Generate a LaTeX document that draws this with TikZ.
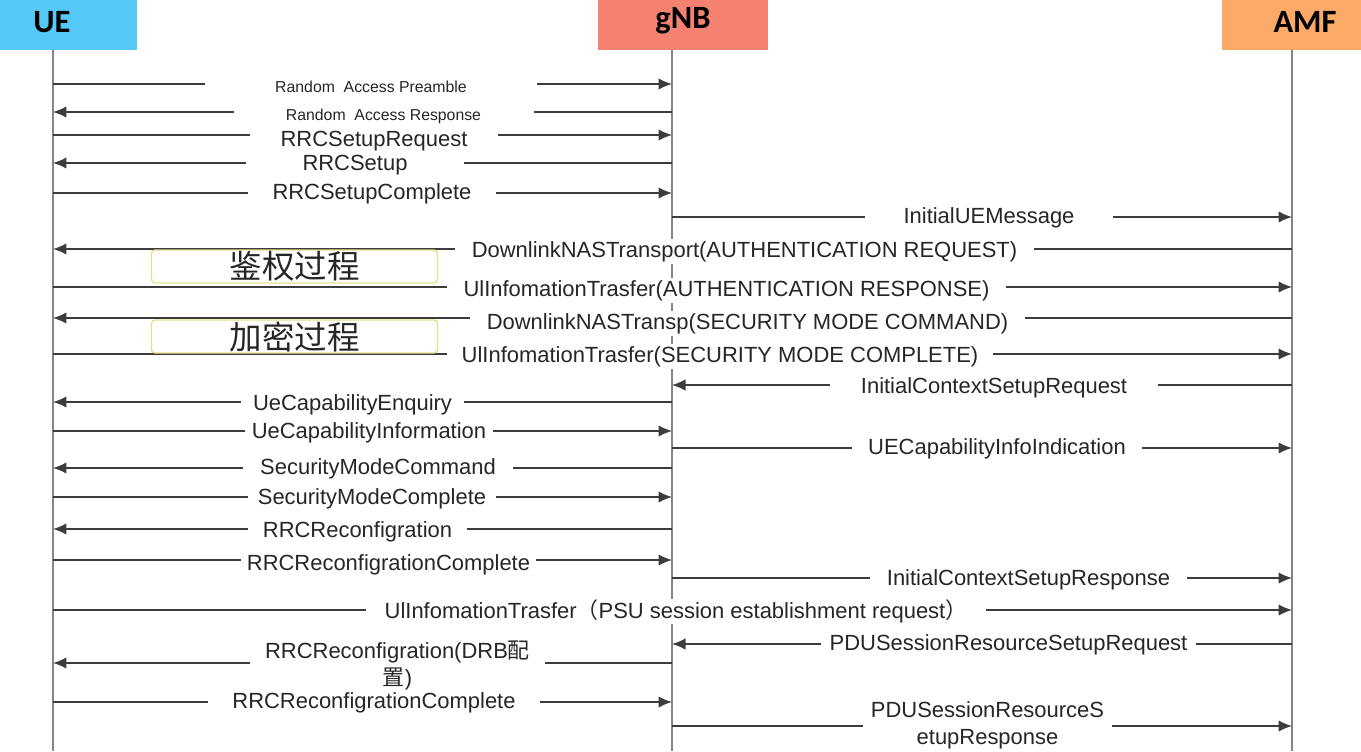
\documentclass[tikz,border=0pt]{standalone}
\usepackage{fontspec}
\setmainfont{Liberation Sans}
\newfontfamily\cjk{Noto Sans CJK SC}
\newfontfamily\headfont{Carlito}
\usepackage{tikz}
\usetikzlibrary{arrows.meta, positioning}
\definecolor{ueblue}{HTML}{56C8F5}
\definecolor{gnbred}{HTML}{F58271}
\definecolor{amforange}{HTML}{FAAA66}
\definecolor{lifegray}{HTML}{858585}
\definecolor{msggray}{HTML}{3C3C3C}
\definecolor{txtgray}{HTML}{262626}
\definecolor{procyellow}{HTML}{E6E08E}
\tikzset{
>={Latex[length=2.7mm,width=2.3mm]}, % filled heads on the messages
life/.style={draw=lifegray, line width=1.1pt}, % the three lifelines
msg/.style={->, draw=msggray, line width=0.9pt}, % one message
lbl/.style={fill=white, inner sep=0pt, minimum height=0.5cm, text=txtgray, align=center,
  yshift=-0.05cm, font=\fontsize{12.5}{15.3}\selectfont},
lblsmall/.style={lbl, font=\fontsize{9}{11}\selectfont},
gapw/.style={minimum width=#1*0.02cm}, % width of the break in the line, in px
headbox/.style={minimum height=1cm, inner sep=0pt},
headtxt/.style={inner sep=0pt, font=\headfont\bfseries\fontsize{18.5}{20}\selectfont},
procbox/.style={draw=procyellow, fill=white, rounded corners=2pt, line width=0.8pt,
  minimum width=5.72cm, minimum height=0.66cm, inner sep=0pt, text=txtgray,
  font=\cjk\fontsize{18.5}{20}\selectfont},
}
\begin{document}
\begin{tikzpicture}[x=0.02cm, y=-0.02cm]% one unit = one px of the reference
  \useasboundingbox (0,0) rectangle (1361,751);

  % heads
  \node[headbox, fill=ueblue, minimum width=2.74cm] (ueBox) at (68.5,25) {};
  \node[headbox, fill=gnbred, minimum width=3.4cm] (gnbBox) at (683,25) {};
  \node[headbox, fill=amforange, minimum width=2.78cm] (amfBox) at (1291.5,25) {};
  \node[headtxt] (ue) at (52,22) {UE};
  \node[headtxt] (gnb) at (683,21) {gNB};
  \node[headtxt] (amf) at (1305,22) {AMF};

  % lifelines
  \coordinate (ueL) at (53,50);
  \coordinate (gnbL) at (672,50);
  \coordinate (amfL) at (1292,50);
  \draw[life] (ueL) -- (ueL |- 0,751);
  \draw[life] (gnbL) -- (gnbL |- 0,751);
  \draw[life] (amfL) -- (amfL |- 0,751);

  % messages
  \draw[msg] (ueL |- 0,84) -- (gnbL |- 0,84) node[lblsmall, gapw=332] (m1) at (371,84) {Random\ \ Access Preamble};
  \draw[msg] (gnbL |- 0,112) -- (ueL |- 0,112) node[lblsmall, gapw=300] (m2) at (383.5,114) {Random\ \ Access Response};
  \draw[msg] (ueL |- 0,135) -- (gnbL |- 0,135) node[lbl, gapw=248] (m3) at (374,139) {RRCSetupRequest};
  \draw[msg] (gnbL |- 0,163) -- (ueL |- 0,163) node[lbl, gapw=218] (m4) at (355,163) {RRCSetup};
  \draw[msg] (ueL |- 0,193) -- (gnbL |- 0,193) node[lbl, gapw=248] (m5) at (372,191) {RRCSetupComplete};
  \draw[msg] (gnbL |- 0,217) -- (amfL |- 0,217) node[lbl, gapw=248] (m6) at (989,215) {InitialUEMessage};
  \draw[msg] (amfL |- 0,249) -- (ueL |- 0,249) node[lbl, gapw=579] (m7) at (744.5,249) {DownlinkNASTransport(AUTHENTICATION REQUEST)};
  \draw[msg] (ueL |- 0,287) -- (amfL |- 0,287) node[lbl, gapw=559] (m8) at (726.5,288) {UlInfomationTrasfer(AUTHENTICATION RESPONSE)};
  \draw[msg] (amfL |- 0,318) -- (ueL |- 0,318) node[lbl, gapw=555] (m9) at (747.5,321) {DownlinkNASTransp(SECURITY MODE COMMAND)};
  \draw[msg] (ueL |- 0,354) -- (amfL |- 0,354) node[lbl, gapw=546] (m10) at (720,354) {UlInfomationTrasfer(SECURITY MODE COMPLETE)};
  \draw[msg] (amfL |- 0,385) -- (gnbL |- 0,385) node[lbl, gapw=328] (m11) at (994,385) {InitialContextSetupRequest};
  \draw[msg] (gnbL |- 0,402) -- (ueL |- 0,402) node[lbl, gapw=223] (m12) at (352.5,402) {UeCapabilityEnquiry};
  \draw[msg] (ueL |- 0,431) -- (gnbL |- 0,431) node[lbl, gapw=248] (m13) at (369,430) {UeCapabilityInformation};
  \draw[msg] (gnbL |- 0,448) -- (amfL |- 0,448) node[lbl, gapw=290] (m14) at (997,446) {UECapabilityInfoIndication};
  \draw[msg] (gnbL |- 0,468) -- (ueL |- 0,468) node[lbl, gapw=270] (m15) at (378,466) {SecurityModeCommand};
  \draw[msg] (ueL |- 0,497) -- (gnbL |- 0,497) node[lbl, gapw=248] (m16) at (372,496) {SecurityModeComplete};
  \draw[msg] (gnbL |- 0,529) -- (ueL |- 0,529) node[lbl, gapw=219] (m17) at (357.5,529) {RRCReconfigration};
  \draw[msg] (ueL |- 0,560) -- (gnbL |- 0,560) node[lbl, gapw=295] (m18) at (388.5,562) {RRCReconfigrationComplete};
  \draw[msg] (gnbL |- 0,578) -- (amfL |- 0,578) node[lbl, gapw=317] (m19) at (1028.5,577) {InitialContextSetupResponse};
  \draw[msg] (ueL |- 0,610) -- (amfL |- 0,610) node[lbl, gapw=620] (m20) at (676,609) {UlInfomationTrasfer{\cjk （}PSU session establishment request{\cjk ）}};
  \draw[msg] (amfL |- 0,644) -- (gnbL |- 0,644) node[lbl, gapw=375] (m21) at (1008.5,642) {PDUSessionResourceSetupRequest};
  \draw[msg] (gnbL |- 0,663) -- (ueL |- 0,663) node[lbl, gapw=295] (m22) at (397.5,663) {RRCReconfigration(DRB{\cjk 配}\\{\cjk 置})};
  \draw[msg] (ueL |- 0,702) -- (gnbL |- 0,702) node[lbl, gapw=332] (m23) at (374,700) {RRCReconfigrationComplete};
  \draw[msg] (gnbL |- 0,726) -- (amfL |- 0,726) node[lbl, gapw=249] (m24) at (987.5,723) {PDUSessionResourceS\\etupResponse};

  % procedure boxes
  \node[procbox] (auth) at (294.5,266.5) {鉴权过程};
  \node[procbox] (cipher) at (294.5,336.5) {加密过程};
\end{tikzpicture}
\end{document}
